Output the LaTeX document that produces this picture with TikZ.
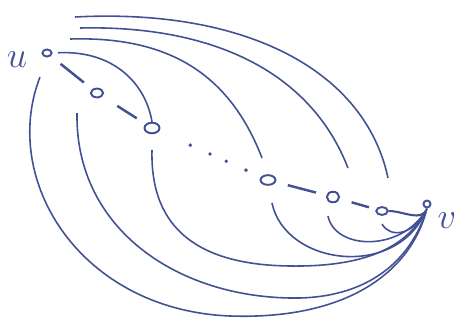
\documentclass[tikz,border=0pt]{standalone}
\usepackage{tikz}
\usetikzlibrary{shapes.geometric, calc}
\usepackage{xcolor}
\definecolor{ink}{RGB}{66,80,148}

\begin{document}
\begin{tikzpicture}[x=0.02cm, y=-0.02cm, color=ink,
    vtx/.style={draw, ellipse, inner sep=0pt, line width=1.1pt},
    link/.style={line width=1.4pt, shorten <=7pt, shorten >=6pt},
    arc/.style={line width=0.9pt},
    lbl/.style={font=\fontsize{22}{22}\selectfont}]
        \useasboundingbox (0,0) rectangle (458,322);
        % path u - p1 - p2 ... p3 - p4 - p5 - v
        \node[vtx, minimum width=5.2pt, minimum height=4pt]   (u)  at (47,53)   {};
        \node[vtx, minimum width=7pt,   minimum height=5pt]   (p1) at (97,93)   {};
        \node[vtx, minimum width=8.5pt, minimum height=6pt]   (p2) at (152,128) {};
        \node[vtx, minimum width=8.5pt, minimum height=5.5pt] (p3) at (268,180) {};
        \node[vtx, minimum width=7pt,   minimum height=6pt]   (p4) at (333,197) {};
        \node[vtx, minimum width=6.5pt, minimum height=4.5pt] (p5) at (382,211) {};
        \node[vtx, minimum width=4pt,   minimum height=4pt]   (v)  at (427,204) {};
        \node[lbl] (lu) at (17,60)  {$u$};
        \node[lbl] (lv) at (447,221) {$v$};
        \draw[link] (u) -- (p1);
        \draw[link, shorten <=10pt] (p1) -- (p2);
        \draw[link] (p3) -- (p4);
        \draw[link, shorten >=4pt] (p4) -- (p5);
        \draw[line width=1.2pt] (p5.east) to[out=0, in=-110] (v.south);
        % dots between p2 and p3
        \foreach \t in {0.33,0.5,0.64,0.81}
          \fill ($(p2)!\t!(p3)$) circle (1.1pt);
        % arcs leaving u over the top
        \coordinate (s3) at (70,39);  \coordinate (e3) at (262,158);
        \coordinate (s4) at (80,28);  \coordinate (e4) at (348,168);
        \coordinate (s5) at (75,17);  \coordinate (e5) at (388,178);
        \draw[arc, shorten <=3pt] (u.east) .. controls (115,50) and (146,85) .. (p2.north);
        \draw[arc] (s3) .. controls (170,36) and (230,75) .. (e3);
        \draw[arc] (s4) .. controls (210,25) and (310,70) .. (e4);
        \draw[arc] (s5) .. controls (245,8) and (365,70) .. (e5);
        % arcs into v from below
        \coordinate (b0) at (40,77);
        \coordinate (b1) at (77,113);
        \coordinate (b2) at (152,150);
        \coordinate (b3) at (272,203);
        \coordinate (b4) at (328,216);
        \coordinate (b5) at (382,224);
        \draw[arc, shorten >=2pt] (b5) .. controls (390,238) and (412,236) .. (v.south);
        \draw[arc, shorten >=2pt] (b4) .. controls (335,250) and (400,252) .. (v.south);
        \draw[arc, shorten >=2pt] (b3) .. controls (285,265) and (395,280) .. (v.south);
        \draw[arc, shorten >=2pt] (b2) .. controls (150,230) and (200,265) .. (290,266)
          .. controls (360,267) and (405,250) .. (v.south);
        \draw[arc, shorten >=2pt] (b1) .. controls (75,230) and (180,300) .. (300,298)
          .. controls (370,296) and (410,260) .. (v.south);
        \draw[arc, shorten >=2pt] (b0) .. controls (0,180) and (80,310) .. (230,316)
          .. controls (350,320) and (410,270) .. (v.south);
\end{tikzpicture}
\end{document}
